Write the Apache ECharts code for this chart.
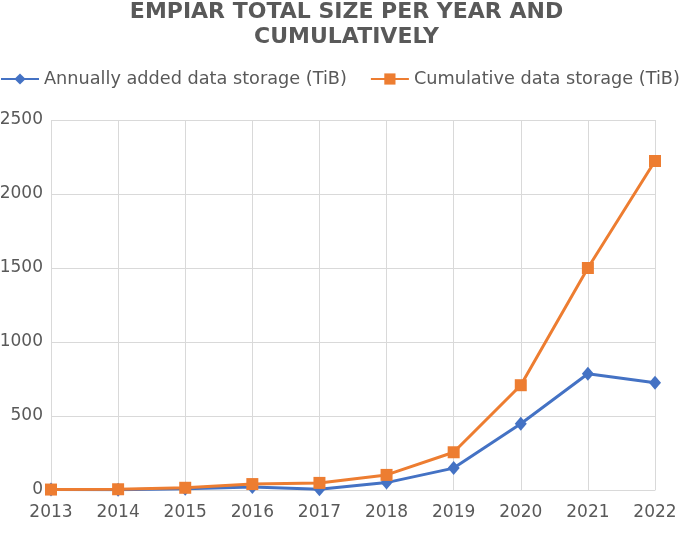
<!DOCTYPE html>
<html><head><meta charset="utf-8">
<script src="https://cdn.jsdelivr.net/npm/echarts@6/dist/echarts.min.js"></script>
<style>html,body{margin:0;padding:0;background:#fff}#c{width:693px;height:538px}</style>
</head><body><div id="c"></div>
<script>
const years = ['2013','2014','2015','2016','2017','2018','2019','2020','2021','2022'];
const annual = [3, 2, 8, 20, 5, 50, 148, 448, 785, 724];
const cumulative = [3, 5, 15, 40, 48, 102, 255, 708, 1500, 2223];
const yTicks = [0, 500, 1000, 1500, 2000, 2500];
const FONT = '"DejaVu Sans", Verdana, sans-serif';

const chart = echarts.init(document.getElementById('c'));
chart.setOption({
  backgroundColor: '#fff',
  animation: false,
  title: {
    text: 'EMPIAR TOTAL SIZE PER YEAR AND\nCUMULATIVELY',
    left: 'center', top: 0, padding: 0,
    textStyle: {fontFamily: FONT, fontWeight: 'bold', fontSize: 22, color: '#595959', lineHeight: 25}
  },
  legend: {
    top: 70, left: 0, padding: 0,
    itemWidth: 38, itemHeight: 14, itemGap: 23,
    textStyle: {fontFamily: FONT, fontSize: 17.7, color: '#595959'},
    data: ['Annually added data storage (TiB)', 'Cumulative data storage (TiB)']
  },
  grid: {left: 51, right: 38, top: 120, bottom: 48, containLabel: false, outerBoundsMode: 'none'},
  xAxis: {
    type: 'category', data: years, boundaryGap: false,
    axisLine: {lineStyle: {color: '#d9d9d9'}},
    axisTick: {show: false},
    splitLine: {show: true, lineStyle: {color: '#d9d9d9'}},
    axisLabel: {fontFamily: FONT, fontSize: 17, color: '#595959', margin: 14}
  },
  yAxis: {
    type: 'value', min: 0, max: 2500, interval: 500,
    axisLine: {show: false}, axisTick: {show: false},
    splitLine: {lineStyle: {color: '#d9d9d9'}},
    axisLabel: {fontFamily: FONT, fontSize: 17, color: '#595959', margin: 8,
      formatter: v => yTicks.includes(v) ? String(v) : ''}
  },
  series: [
    {name: 'Annually added data storage (TiB)', type: 'line', data: annual,
     symbol: 'diamond', symbolSize: [12, 14], lineStyle: {width: 3, color: '#4472C4'},
     itemStyle: {color: '#4472C4'}},
    {name: 'Cumulative data storage (TiB)', type: 'line', data: cumulative,
     symbol: 'rect', symbolSize: 12, lineStyle: {width: 3, color: '#ED7D31'},
     itemStyle: {color: '#ED7D31'}}
  ]
});
</script></body></html>
